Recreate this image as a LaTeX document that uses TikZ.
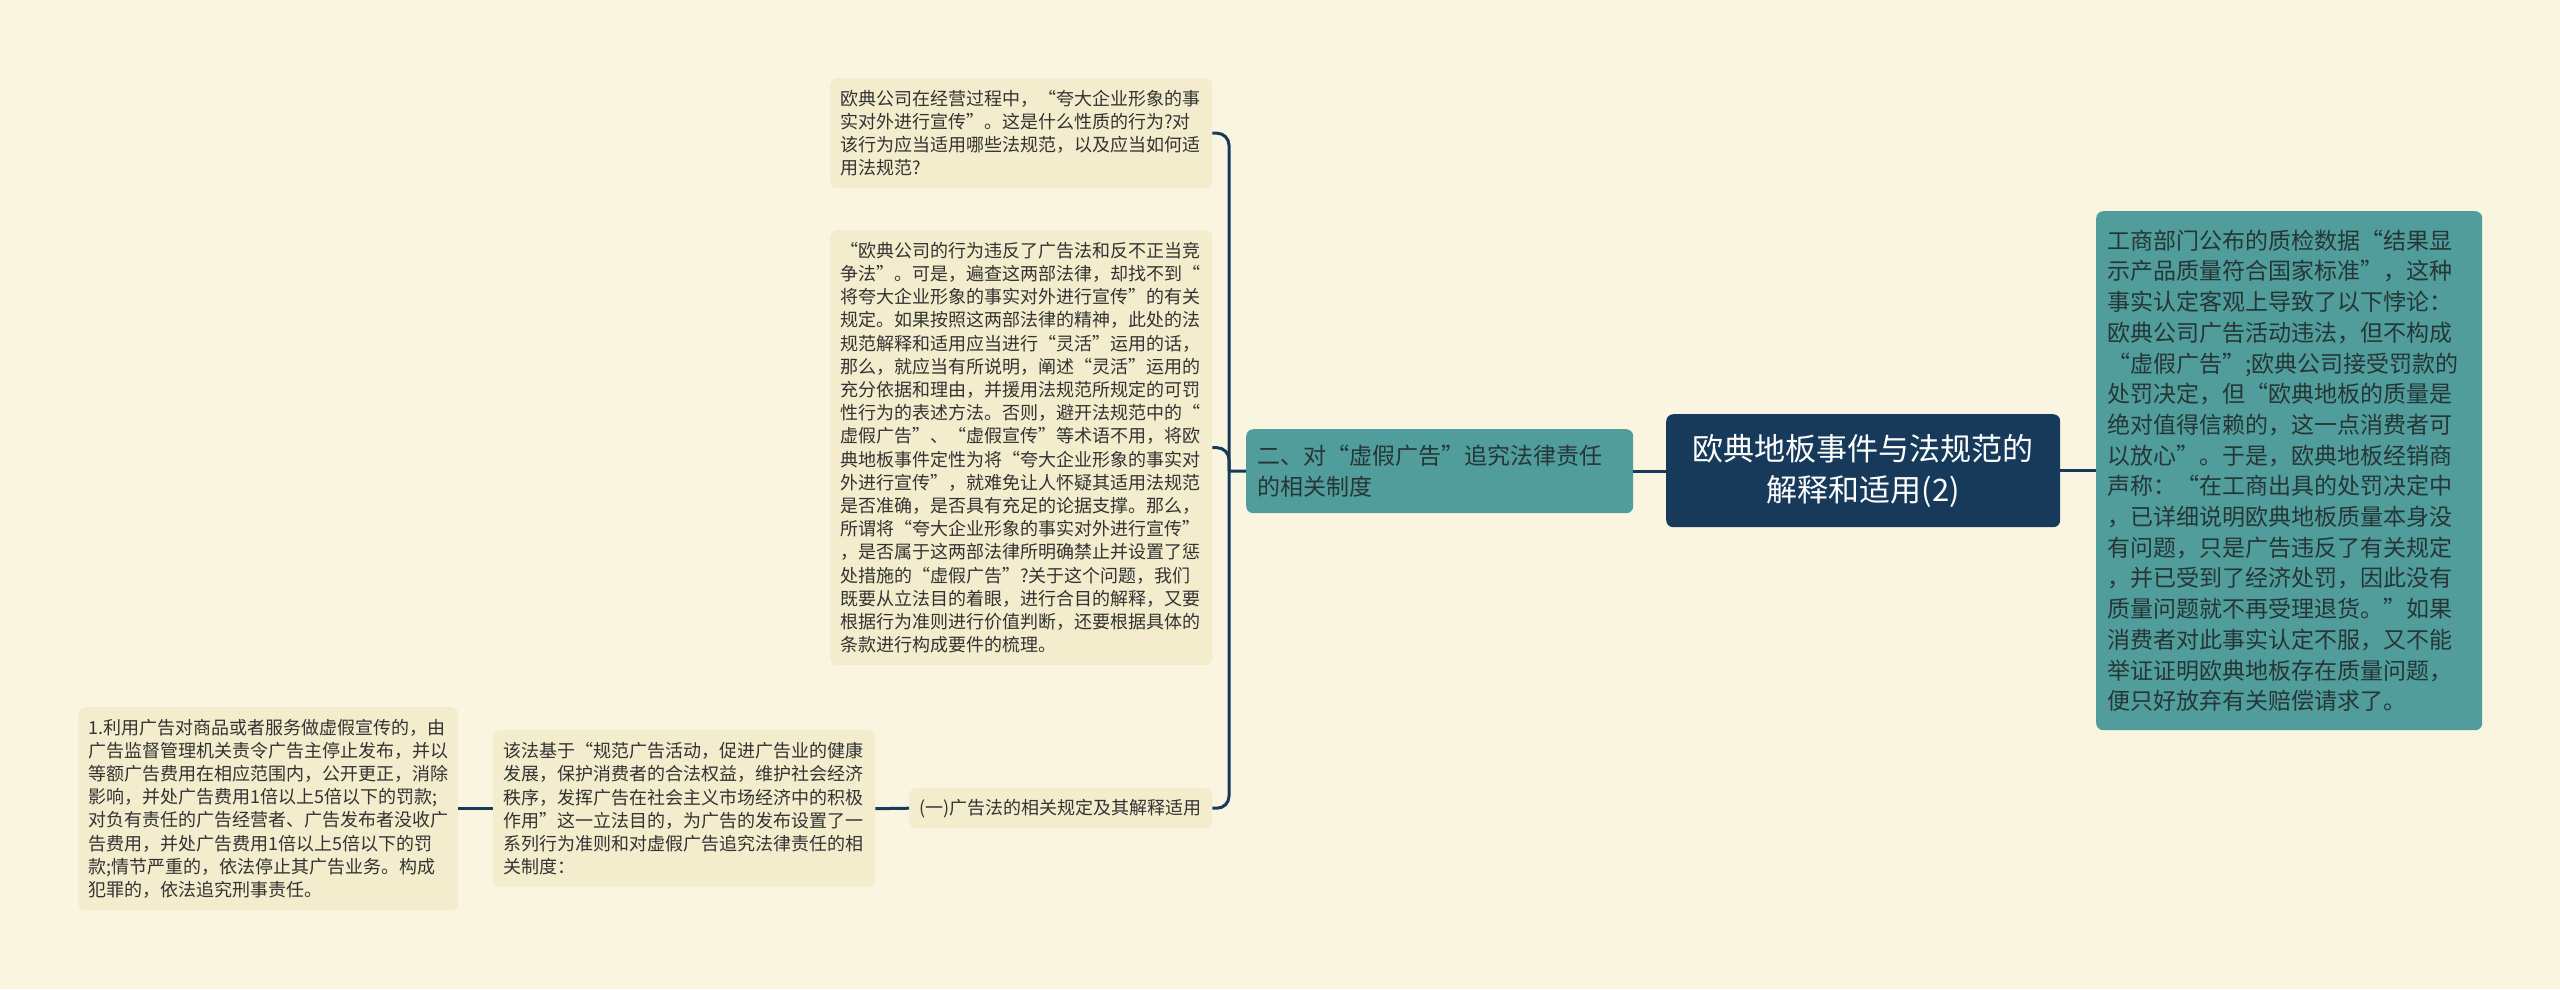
\documentclass[tikz,border=0pt]{standalone}
\usepackage{fontspec}
\setmainfont{Noto Sans CJK SC}
\newfontfamily\qf[RawFeature=+fwid]{Noto Sans CJK SC}
\usepackage{newunicodechar}
\newunicodechar{“}{{\qf\char"201C}}
\newunicodechar{”}{{\qf\char"201D}}
\definecolor{bgc}{HTML}{FAF5E1}
\definecolor{leaffill}{HTML}{F3EDCD}
\definecolor{leaftext}{HTML}{333333}
\definecolor{tealc}{HTML}{509D9C}
\definecolor{tealtext}{HTML}{263636}
\definecolor{navy}{HTML}{173A5A}
\begin{document}
\begin{tikzpicture}[x=1pt,y=-1pt,
  conn/.style={draw=navy,line width=3pt},
  box/.style={anchor=north west,rounded corners=7pt,inner xsep=10pt,inner ysep=0pt,align=left},
  leaf/.style={box,fill=leaffill,text=leaftext,font=\fontsize{18}{23.2}\selectfont},
  tealbox/.style={box,fill=tealc,text=tealtext,inner xsep=11pt,font=\fontsize{23}{30.7}\selectfont},
  rootbox/.style={box,fill=navy,text=white,align=center,font=\fontsize{31}{41}\selectfont}]
\useasboundingbox (0,0) rectangle (2560,989);
\fill[bgc] (0,0) rectangle (2560,989);

\node[rootbox,minimum width=394pt,minimum height=113pt] (root) at (1666,414)
  {欧典地板事件与法规范的\\解释和适用(2)};

\node[tealbox,minimum width=386pt,minimum height=519pt,text width=364pt] (right) at (2096,211)
  {工商部门公布的质检数据“结果显\\示产品质量符合国家标准”，这种\\事实认定客观上导致了以下悖论：\\欧典公司广告活动违法，但不构成\\“虚假广告”;欧典公司接受罚款的\\处罚决定，但“欧典地板的质量是\\绝对值得信赖的，这一点消费者可\\以放心”。于是，欧典地板经销商\\声称：“在工商出具的处罚决定中\\，已详细说明欧典地板质量本身没\\有问题，只是广告违反了有关规定\\，并已受到了经济处罚，因此没有\\质量问题就不再受理退货。”如果\\消费者对此事实认定不服，又不能\\举证证明欧典地板存在质量问题，\\便只好放弃有关赔偿请求了。};

\node[tealbox,minimum width=387pt,minimum height=84pt,text width=365pt] (branch) at (1246,429)
  {二、对“虚假广告”追究法律责任\\的相关制度};

\node[leaf,minimum width=382pt,minimum height=110pt,text width=362pt] (q1) at (830,78)
  {欧典公司在经营过程中，“夸大企业形象的事\\实对外进行宣传”。这是什么性质的行为?对\\该行为应当适用哪些法规范，以及应当如何适\\用法规范?};

\node[leaf,minimum width=382pt,minimum height=435pt,text width=362pt] (q2) at (830,230)
  {“欧典公司的行为违反了广告法和反不正当竞\\争法”。可是，遍查这两部法律，却找不到“\\将夸大企业形象的事实对外进行宣传”的有关\\规定。如果按照这两部法律的精神，此处的法\\规范解释和适用应当进行“灵活”运用的话，\\那么，就应当有所说明，阐述“灵活”运用的\\充分依据和理由，并援用法规范所规定的可罚\\性行为的表述方法。否则，避开法规范中的“\\虚假广告”、“虚假宣传”等术语不用，将欧\\典地板事件定性为将“夸大企业形象的事实对\\外进行宣传”，就难免让人怀疑其适用法规范\\是否准确，是否具有充足的论据支撑。那么，\\所谓将“夸大企业形象的事实对外进行宣传”\\，是否属于这两部法律所明确禁止并设置了惩\\处措施的“虚假广告”?关于这个问题，我们\\既要从立法目的着眼，进行合目的解释，又要\\根据行为准则进行价值判断，还要根据具体的\\条款进行构成要件的梳理。};

\node[leaf,minimum width=303pt,minimum height=40pt,align=center] (one) at (909,788)
  {(一)广告法的相关规定及其解释适用};

\node[leaf,minimum width=382pt,minimum height=157pt,text width=362pt] (law) at (493,730)
  {该法基于“规范广告活动，促进广告业的健康\\发展，保护消费者的合法权益，维护社会经济\\秩序，发挥广告在社会主义市场经济中的积极\\作用”这一立法目的，为广告的发布设置了一\\系列行为准则和对虚假广告追究法律责任的相\\关制度：};

\node[leaf,minimum width=380pt,minimum height=203pt,text width=360pt] (p1) at (78,707)
  {1.利用广告对商品或者服务做虚假宣传的，由\\广告监督管理机关责令广告主停止发布，并以\\等额广告费用在相应范围内，公开更正，消除\\影响，并处广告费用1倍以上5倍以下的罚款;\\对负有责任的广告经营者、广告发布者没收广\\告费用，并处广告费用1倍以上5倍以下的罚\\款;情节严重的，依法停止其广告业务。构成\\犯罪的，依法追究刑事责任。};

\coordinate (bx) at (1229,471);

\draw[conn] (root.east) -- (right.west);
\draw[conn] (root.west) -- (branch.west -| root.west) -- (branch.east);
\draw[conn] (branch.west) -- (bx);
\draw[conn,rounded corners=12pt] (q1.east) -| (bx) |- (one.east);
\draw[conn,rounded corners=12pt] (q2.east) -| (bx);
\draw[conn] (one.west) -- (law.east);
\draw[conn] (law.west) -- (p1.east);
\end{tikzpicture}
\end{document}
